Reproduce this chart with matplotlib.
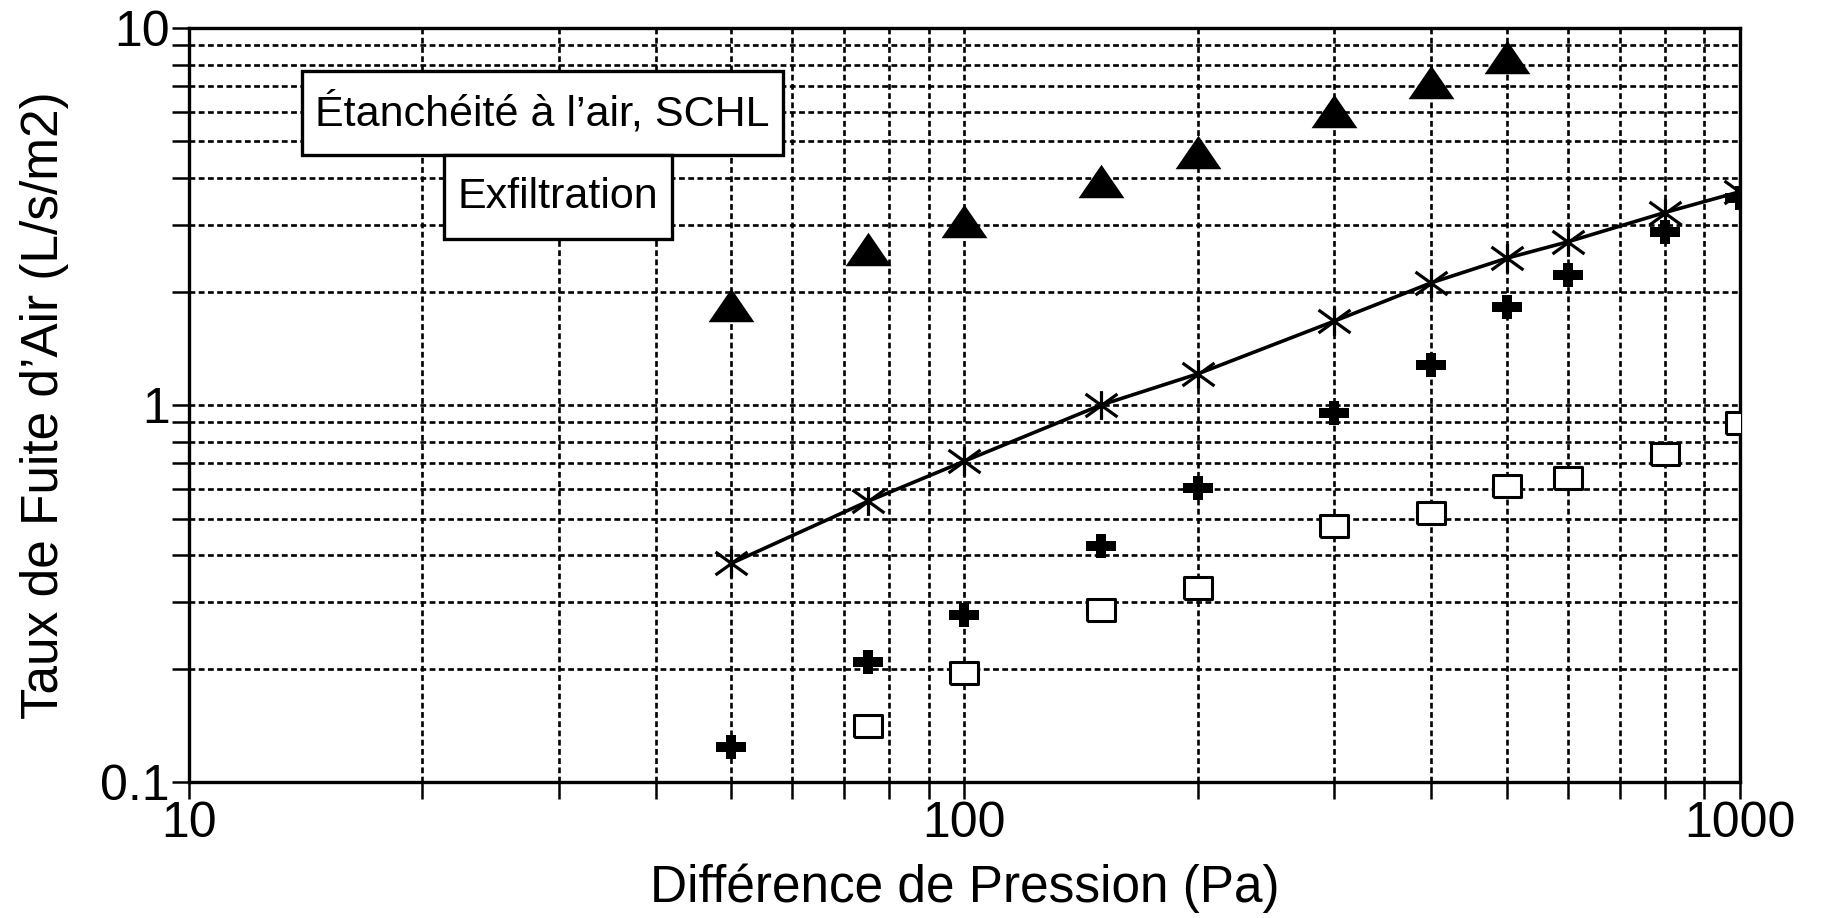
import matplotlib
matplotlib.use("Agg")
import matplotlib.pyplot as plt
from matplotlib.path import Path
from matplotlib.patches import Rectangle
from matplotlib.ticker import LogLocator, FixedLocator, FixedFormatter, NullFormatter

plt.rcParams['font.family'] = ['Liberation Sans', 'DejaVu Sans']

# pressure differences (Pa)
pressure = [50, 75, 100, 150, 200, 300, 400, 500, 600, 800, 1000]
# filled triangles (50..500 Pa)
tri_p = pressure[:8]
tri_vals = [1.84, 2.6, 3.08, 3.93, 4.69, 6.02, 7.2, 8.4]
# asterisks joined by a line
star_vals = [0.38, 0.555, 0.71, 1.0, 1.21, 1.67, 2.11, 2.45, 2.71, 3.24, 3.68]
# bold crosses
plus_vals = [0.124, 0.208, 0.277, 0.423, 0.604, 0.955, 1.28, 1.82, 2.21, 2.87, 3.55]
# open squares (75..1000 Pa)
sq_p = pressure[1:]
sq_vals = [0.141, 0.195, 0.286, 0.327, 0.478, 0.517, 0.608, 0.639, 0.743, 0.895]

x_ticks = [10, 100, 1000]
x_labels = ["10", "100", "1000"]
y_ticks = [0.1, 1, 10]
y_labels = ["0.1", "1", "10"]

# marker shapes (scan style: wide triangle, 6-arm asterisk, thick cross, flat square)
tri_marker = [(0, 0.73), (-1, -0.73), (1, -0.73), (0, 0.73)]
star_marker = Path([(0, -0.9), (0, 0.9), (-1, -0.72), (1, 0.72), (-1, 0.72), (1, -0.72)],
                   [Path.MOVETO, Path.LINETO, Path.MOVETO, Path.LINETO, Path.MOVETO, Path.LINETO])
a, h, w = 0.34, 0.82, 1.0
plus_marker = [(-w, -a), (-a, -a), (-a, -h), (a, -h), (a, -a), (w, -a), (w, a),
               (a, a), (a, h), (-a, h), (-a, a), (-w, a), (-w, -a)]
sq_marker = [(-1, -0.82), (1, -0.82), (1, 0.82), (-1, 0.82), (-1, -0.82)]

fig = plt.figure(figsize=(18.21, 9.18), dpi=100)
ax = fig.add_axes([0.1038, 0.1481, 0.9555 - 0.1038, 0.9695 - 0.1481])
ax.set_xscale('log')
ax.set_yscale('log')
ax.set_xlim(10, 1000)
ax.set_ylim(0.1, 10)

ax.grid(True, which='both', color='black', linestyle=(0, (2.2, 1.3)), linewidth=1.9, zorder=0)
ax.set_axisbelow(True)

ax.plot(tri_p, tri_vals, linestyle='none', marker=tri_marker, markersize=33,
        color='black', markeredgewidth=0, zorder=4)
ax.plot(pressure, star_vals, color='black', linewidth=2.6, marker=star_marker,
        markersize=23, markeredgewidth=2.3, markerfacecolor='none', zorder=4)
ax.plot(pressure, plus_vals, linestyle='none', marker=plus_marker, markersize=21,
        color='black', markeredgewidth=0, zorder=4)
ax.plot(sq_p, sq_vals, linestyle='none', marker=sq_marker, markersize=20,
        markerfacecolor='white', markeredgecolor='black', markeredgewidth=2.2, zorder=4)

# text boxes
ax.add_patch(Rectangle((14.0, 4.6), 58.3 - 14.0, 7.7 - 4.6, facecolor='white',
                       edgecolor='black', linewidth=2.4, zorder=3))
ax.add_patch(Rectangle((21.3, 2.75), 42.0 - 21.3, 4.6 - 2.75, facecolor='white',
                       edgecolor='black', linewidth=2.4, zorder=3))
ax.text((14.0 * 58.3) ** 0.5, (4.6 * 7.7) ** 0.5, "Étanchéité à l’air, SCHL",
        ha='center', va='center', fontsize=31, zorder=5)
ax.text((21.3 * 42.0) ** 0.5, (2.75 * 4.6) ** 0.5, "Exfiltration",
        ha='center', va='center', fontsize=31, zorder=5)

ax.xaxis.set_major_locator(FixedLocator(x_ticks))
ax.xaxis.set_major_formatter(FixedFormatter(x_labels))
ax.xaxis.set_minor_locator(LogLocator(base=10, subs=range(2, 10)))
ax.xaxis.set_minor_formatter(NullFormatter())
ax.yaxis.set_major_locator(FixedLocator(y_ticks))
ax.yaxis.set_major_formatter(FixedFormatter(y_labels))
ax.yaxis.set_minor_locator(LogLocator(base=10, subs=range(2, 10)))
ax.yaxis.set_minor_formatter(NullFormatter())

ax.tick_params(which='both', direction='out', length=12, width=1.8, labelsize=36)
ax.tick_params(axis='both', which='major', pad=2)

for s in ax.spines.values():
    s.set_linewidth(2.4)

ax.set_xlabel("Différence de Pression (Pa)", fontsize=37, va='center')
ax.xaxis.set_label_coords(0.5, -0.1406)
ax.set_ylabel("Taux de Fuite d’Air (L/s/m2)", fontsize=37, va='center')
ax.yaxis.set_label_coords(-0.0935, 0.5)

fig.savefig("out.png", dpi=100)
